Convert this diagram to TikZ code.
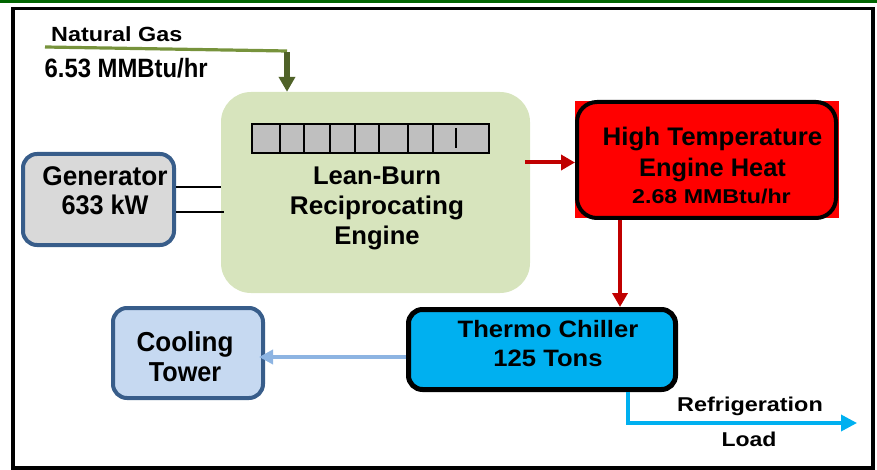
\documentclass[tikz,border=0pt]{standalone}
\usepackage{fontspec}
\setmainfont{Liberation Sans}
\usetikzlibrary{arrows.meta}

\definecolor{bargreen}{RGB}{0,100,0}
\definecolor{gasline}{RGB}{119,147,60}
\definecolor{gasdark}{RGB}{79,98,40}
\definecolor{engfill}{RGB}{215,228,189}
\definecolor{cylgray}{RGB}{191,191,191}
\definecolor{genfill}{RGB}{217,217,217}
\definecolor{steelblue}{RGB}{56,93,138}
\definecolor{towerfill}{RGB}{198,217,241}
\definecolor{hotred}{RGB}{255,0,0}
\definecolor{darkred}{RGB}{192,0,0}
\definecolor{chillcyan}{RGB}{0,176,240}
\definecolor{coolblue}{RGB}{141,180,226}

% horizontal squeeze or stretch of one line of text
\newcommand\hsq[2]{\scalebox{#1}[1]{#2}}
\newcommand\fsz[2]{\fontsize{#1}{#2}\selectfont}

\tikzset{
  lbl/.style={inner sep=0pt, align=center, font=\bfseries},
  engbox/.style={fill=engfill, rounded corners=30pt, minimum width=309pt, minimum height=201pt, inner sep=0pt},
  genbox/.style={draw=steelblue, fill=genfill, line width=4pt, rounded corners=14pt, minimum width=151pt, minimum height=91pt, inner sep=0pt},
  towerbox/.style={draw=steelblue, fill=towerfill, line width=4pt, rounded corners=14pt, minimum width=150pt, minimum height=90pt, inner sep=0pt},
  heatbox/.style={draw=black, fill=hotred, line width=4pt, rounded corners=20pt, minimum width=259pt, minimum height=116pt, inner sep=0pt},
  chillbox/.style={draw=black, fill=chillcyan, line width=5pt, rounded corners=14pt, minimum width=267pt, minimum height=80pt, inner sep=0pt},
  cylstrip/.style={draw=black, fill=cylgray, line width=2.5pt, minimum width=237pt, minimum height=29pt, inner sep=0pt},
  heatflow/.style={draw=darkred, line width=4pt, -{Triangle[width=15pt,length=14pt]}},
  coolflow/.style={draw=coolblue, line width=3.5pt, -{Triangle[width=14pt,length=14pt]}},
  coldflow/.style={draw=chillcyan, line width=3.5pt, -{Triangle[width=16pt,length=16pt]}},
}

\begin{document}
\begin{tikzpicture}[x=1pt, y=-1pt]
  \useasboundingbox (0,0) rectangle (877,470);
  % top band and outer frame
  \fill[bargreen] (0,0) rectangle (877,3.2);
  \draw[line width=3.5pt] (13,8.5) rectangle (873,468);

  % engine block with its cylinder strip
  \node[engbox] (engine) at (375.5,192.5) {};
  \node[cylstrip] (cyl) at (370.5,138.5) {};
  \foreach \cx in {280,304,330,355,379,408,433}
    \draw[line width=1.3pt] (\cx,124) -- (\cx,153);
  \draw[line width=1.3pt] (456,128) -- (456,148);
  \node[lbl, font=\bfseries\fsz{25.6}{30}] (engtxt) at (377,208)
    {Lean-Burn\\\hsq{1.02}{Reciprocating}\\Engine};

  % generator
  \node[genbox] (gen) at (98.5,199.5) {};
  \node[lbl, font=\bfseries\fsz{27}{29}] (gentxt) at (105,191)
    {\hsq{0.97}{Generator}\\\hsq{0.935}{633 kW}};

  % high temperature heat
  \fill[hotred] (575,101) rectangle (839,218);
  \node[heatbox] (heat) at (706.5,160) {};
  \node[lbl, font=\bfseries\fsz{25.4}{31}] (heattxt) at (712.5,154)
    {\hsq{1.02}{High Temperature}\\Engine Heat};
  \node[lbl, font=\bfseries\fsz{20}{24}] (heatval) at (711.5,196)
    {\hsq{1.16}{2.68 MMBtu/hr}};

  % absorption chiller
  \node[chillbox] (chiller) at (542,349.5) {};
  \node[lbl, font=\bfseries\fsz{23.7}{29}] (chilltxt) at (548,343.5)
    {\hsq{1.08}{Thermo Chiller}\\\hsq{1.08}{125 Tons}};

  % cooling tower
  \node[towerbox] (tower) at (188,353) {};
  \node[lbl, font=\bfseries\fsz{27.4}{30}] (towertxt) at (185,357)
    {\hsq{0.95}{Cooling}\\\hsq{0.92}{Tower}};

  % fuel input
  \node[lbl, font=\bfseries\fsz{20.5}{24}, anchor=base west] (gasname) at (51,41.5)
    {\hsq{1.14}{Natural Gas}};
  \node[lbl, font=\bfseries\fsz{26.5}{30}, anchor=base west] (gasval) at (44.5,77.5)
    {\hsq{0.9}{6.53 MMBtu/hr}};
  \coordinate (gasin) at (45,47);
  \coordinate (gasbend) at (287,51);
  \draw[gasline, line width=3.2pt] (gasin) -- (gasbend);
  \draw[gasdark, line width=5.5pt, -{Triangle[width=16pt,length=15pt]}]
    ([yshift=-1.5pt]gasbend) -- (engine.north -| gasbend);

  % generator shaft
  \draw[line width=1.3pt] (gen.east |- 0,187) -- (engine.west |- 0,187);
  \draw[line width=1.3pt] (gen.east |- 0,212) -- ([xshift=3pt]engine.west |- 0,212);

  % heat and cooling flows
  \draw[heatflow] ([xshift=-5pt]engine.east |- 0,162.5) -- (heat.west |- 0,162.5);
  \draw[heatflow] (heat.south -| 620,0) -- (chiller.north -| 620,0);
  \draw[coolflow] (chiller.west |- 0,357) -- ([xshift=-6pt]tower.east |- 0,357);

  % chilled water to the load
  \coordinate (loadend) at (857,423);
  \draw[coldflow] (chiller.south -| 628,0) -- (628,423) -- (loadend);
  \node[lbl, font=\bfseries\fsz{20}{24}, anchor=base] (refrig) at (750,411.5)
    {\hsq{1.17}{Refrigeration}};
  \node[lbl, font=\bfseries\fsz{20}{24}, anchor=base] (load) at (749,446.5)
    {\hsq{1.15}{Load}};
\end{tikzpicture}
\end{document}
